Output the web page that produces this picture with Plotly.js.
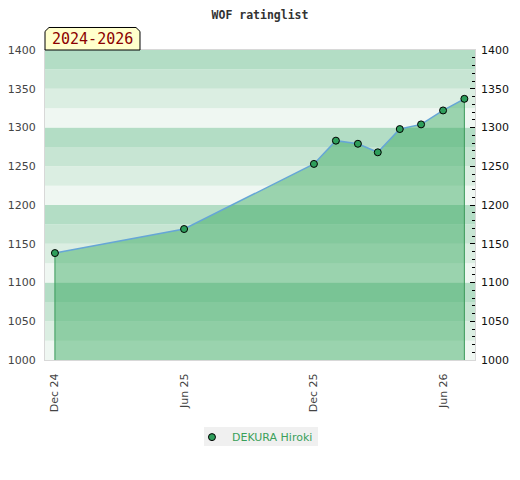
<!DOCTYPE html>
<html><head><meta charset="utf-8">
<script src="https://cdn.plot.ly/plotly-3.0.1.min.js"></script>
<style>html,body{margin:0;padding:0;background:#fff}#chart{width:520px;height:480px}</style>
</head><body><div id="chart"></div>
<script>
const dates = ['2024-12-01','2025-06-01','2025-12-01','2026-01-01','2026-02-01','2026-03-01','2026-04-01','2026-05-01','2026-06-01','2026-07-01'];
const ratings = [1138,1169,1253,1283,1279,1268,1298,1304,1322,1337];
const tickDates = ['2024-12-01','2025-06-01','2025-12-01','2026-06-01'];
const tickLabels = ['Dec 24','Jun 25','Dec 25','Jun 26'];
const playerName = 'DEKURA Hiroki';
const periodLabel = '2024-2026';
const chartTitle = 'WOF ratinglist';
const yMin = 1000, yMax = 1400, bandStep = 25;
const bandColors = ['#eff7f2','#dbeee2','#c7e5d3','#b3ddc5'];

const shapes = [];
for (let b = yMin; b < yMax; b += bandStep) {
  const idx = ((b - yMin) / bandStep) % 4;
  shapes.push({type:'rect', xref:'paper', yref:'y', x0:0, x1:1, y0:b, y1:b+bandStep,
    fillcolor:bandColors[idx], line:{width:0}, layer:'below'});
}
// label box with cut top corners
shapes.push({type:'path', xref:'paper', yref:'paper',
  path:'M 0,1 L 0,1.060 L 0.0093,1.0726 L 0.2116,1.0726 L 0.2209,1.060 L 0.2209,1 Z',
  fillcolor:'#ffffcc', line:{color:'#000', width:1}, layer:'above'});
// legend background box
shapes.push({type:'rect', xref:'paper', yref:'paper', x0:0.3698, x1:0.6349, y0:-0.2161, y1:-0.2774,
  fillcolor:'#f0f0f0', line:{width:0}, layer:'below'});

const n = dates.length;
const traces = [
  {x:dates, y:ratings, type:'scatter', mode:'lines', fill:'tozeroy',
   fillcolor:'rgba(52,167,91,0.45)', line:{color:'#66a6d6', width:1.5}, showlegend:false, hoverinfo:'skip'},
  {x:[dates[0],dates[0]], y:[ratings[0],yMin], type:'scatter', mode:'lines',
   line:{color:'#3a9a5a', width:1}, showlegend:false, hoverinfo:'skip'},
  {x:[dates[n-1],dates[n-1]], y:[ratings[n-1],yMin], type:'scatter', mode:'lines',
   line:{color:'#3a9a5a', width:1}, showlegend:false, hoverinfo:'skip'},
  {x:dates, y:ratings, type:'scatter', mode:'markers', name:playerName,
   marker:{color:'#2e9e5b', size:7, line:{color:'#000', width:1}}},
  {x:dates, y:ratings, type:'scatter', mode:'markers', yaxis:'y2',
   marker:{opacity:0}, showlegend:false, hoverinfo:'skip'}
];

const layout = {
  width:520, height:480,
  margin:{l:45, r:45, t:50, b:120},
  paper_bgcolor:'#fff', plot_bgcolor:'#fff',
  title:{text:chartTitle, x:0.5, xanchor:'center', y:0.978, yanchor:'top',
    font:{family:'DejaVu Sans Mono', size:11.5, color:'#333', weight:'bold'}},
  xaxis:{type:'date', range:['2024-11-17','2026-07-16'], tickmode:'array',
    tickvals:tickDates, ticktext:tickLabels, tickangle:-90,
    ticks:'outside', ticklen:8, tickcolor:'rgba(0,0,0,0)',
    tickfont:{family:'DejaVu Sans', size:11, color:'#444'},
    showgrid:false, zeroline:false, showline:true, linecolor:'#d8d8d8', linewidth:1, mirror:true},
  yaxis:{range:[yMin,yMax], dtick:50, ticks:'outside', ticklen:6, tickcolor:'rgba(0,0,0,0)',
    tickfont:{family:'DejaVu Sans', size:11, color:'#444'},
    showgrid:false, zeroline:false, showline:true, linecolor:'#d8d8d8', linewidth:1, mirror:true},
  yaxis2:{range:[yMin,yMax], overlaying:'y', side:'right', dtick:50,
    ticks:'inside', ticklen:5, tickcolor:'#000', tickwidth:1, ticklabelstandoff:5,
    minor:{dtick:10, ticks:'inside', ticklen:3, tickcolor:'#000', tickwidth:1, showgrid:false},
    tickfont:{family:'DejaVu Sans', size:11, color:'#111'},
    showgrid:false, zeroline:false, showline:false},
  shapes:shapes,
  annotations:[{xref:'paper', yref:'paper', x:0.1105, y:1.036, xanchor:'center', yanchor:'middle',
    text:periodLabel, showarrow:false,
    font:{family:'DejaVu Sans Mono', size:15, color:'#8b0000'}}],
  legend:{orientation:'h', x:0.3418, xanchor:'left', y:-0.202, yanchor:'top',
    bgcolor:'rgba(0,0,0,0)', font:{family:'DejaVu Sans', size:11, color:'#3aa05a'}},
  showlegend:true
};
Plotly.newPlot('chart', traces, layout, {displayModeBar:false, staticPlot:true});
</script></body></html>
